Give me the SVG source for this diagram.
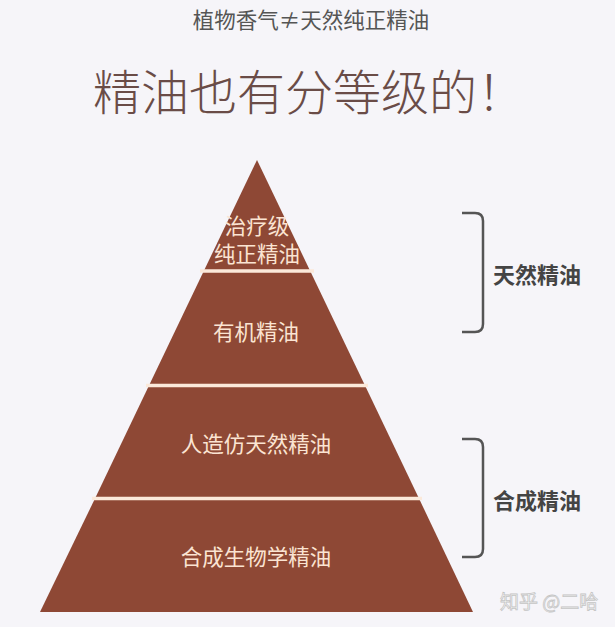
<svg xmlns="http://www.w3.org/2000/svg" width="615" height="627" viewBox="0 0 615 627">
<style>
.cjk{font-family:"Noto Sans CJK SC","Noto Sans",sans-serif}
.lvl{fill:#8e4835}
.lbl{fill:#fbe4d2;font-size:21.5px;text-anchor:middle}
.sep{stroke:#fbe9da;stroke-width:3.5}
.br{fill:none;stroke:#555;stroke-width:2.5}
.grp{fill:#444;font-size:22px;font-weight:bold}
</style>
<rect width="615" height="627" fill="#f6f5f9"/>
<text class="cjk" x="311" y="28" font-size="21.5" fill="#555" text-anchor="middle">植物香气≠天然纯正精油</text>
<text class="cjk" x="93" y="110" font-size="48" font-weight="300" fill="#6a4c47">精油也有分等级的！</text>
<g id="level1">
<polygon class="lvl" points="257,160 310.2,271 203.8,271"/>
<text class="cjk lbl" x="257" y="234" font-size="20.5">治疗级</text>
<text class="cjk lbl" x="257" y="262" font-size="20.5">纯正精油</text>
</g>
<g id="level2">
<polygon class="lvl" points="203.8,271 310.2,271 365,385.5 149,385.5"/>
<text class="cjk lbl" x="256" y="340">有机精油</text>
</g>
<g id="level3">
<polygon class="lvl" points="149,385.5 365,385.5 419,498.5 95,498.5"/>
<text class="cjk lbl" x="256" y="452">人造仿天然精油</text>
</g>
<g id="level4">
<polygon class="lvl" points="95,498.5 419,498.5 473,612 40,612"/>
<text class="cjk lbl" x="256" y="565">合成生物学精油</text>
</g>
<g id="connectors">
<line class="sep" x1="200" y1="271" x2="314" y2="271"/>
<line class="sep" x1="146" y1="385.5" x2="368" y2="385.5"/>
<line class="sep" x1="92" y1="498.5" x2="422" y2="498.5"/>
<path class="br" d="M462,213 H475 Q483,213 483,221 V324 Q483,332 475,332 H462"/>
<path class="br" d="M462,439 H475 Q483,439 483,447 V549 Q483,557 475,557 H462"/>
</g>
<g id="natural">
<text class="cjk grp" x="493" y="283">天然精油</text>
</g>
<g id="synthetic">
<text class="cjk grp" x="493" y="509">合成精油</text>
</g>
<text class="cjk" x="500" y="609" font-size="19" fill="#fff" stroke="#c4c4c4" stroke-width="0.8">知乎 @二哈</text>
</svg>
